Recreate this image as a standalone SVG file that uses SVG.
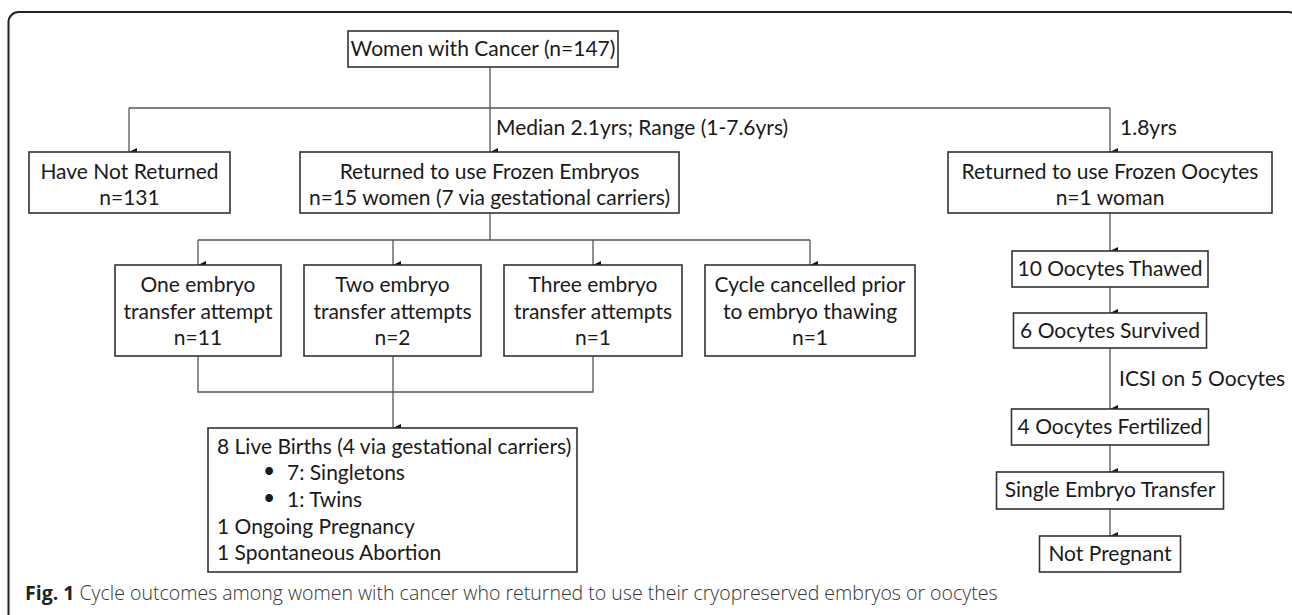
<svg xmlns="http://www.w3.org/2000/svg" width="1292" height="615" viewBox="0 0 1292 615">
<defs>
<marker id="ah" markerWidth="8" markerHeight="8" refX="4" refY="8" orient="auto" markerUnits="userSpaceOnUse" viewBox="0 0 8 8">
<path d="M0,0 L8,0 L4,8 Z" fill="#111"/>
</marker>
<style>
.box{fill:#fff;stroke:#333;stroke-width:1.6}
.t{font-family:Lato,"Liberation Sans",sans-serif;font-size:21px;fill:#1a1a1a;text-anchor:middle}
.tl{font-family:Lato,"Liberation Sans",sans-serif;font-size:21px;fill:#1a1a1a}
.c{fill:none;stroke:#555;stroke-width:1.3}
.ca{fill:none;stroke:#555;stroke-width:1.3;marker-end:url(#ah)}
.cap{font-family:"Open Sans","Liberation Sans",sans-serif;font-size:19.5px;fill:#333}
</style>
</defs>
<rect x="8.5" y="12" width="1290" height="700" rx="10" fill="#fff" stroke="#222" stroke-width="2"/>
<g id="connectors">
<path class="ca" d="M490,67 V152"/>
<path class="c" d="M129,108 H1110"/>
<path class="ca" d="M129,108 V152"/>
<path class="ca" d="M1110,108 V152"/>
<path class="c" d="M490,213 V240"/>
<path class="c" d="M198,240 H810"/>
<path class="ca" d="M198,240 V265"/>
<path class="ca" d="M393,240 V265"/>
<path class="ca" d="M593,240 V265"/>
<path class="ca" d="M810,240 V265"/>
<path class="c" d="M198,356 V392 H593 V356"/>
<path class="ca" d="M393,356 V428"/>
<path class="ca" d="M1110,213 V251"/>
<path class="ca" d="M1110,287 V313"/>
<path class="ca" d="M1110,348 V409"/>
<path class="ca" d="M1110,445 V472"/>
<path class="ca" d="M1110,509 V536"/>
<text class="tl" x="496" y="135">Median 2.1yrs; Range (1-7.6yrs)</text>
<text class="tl" x="1120" y="135">1.8yrs</text>
<text class="tl" x="1119" y="386">ICSI on 5 Oocytes</text>
</g>
<g id="n-women">
<rect class="box" x="348" y="31" width="270" height="36"/>
<text class="t" x="483" y="56">Women with Cancer (n=147)</text>
</g>
<g id="n-notreturned">
<rect class="box" x="29" y="152" width="201" height="61"/>
<text class="t" x="129.5" y="179">Have Not Returned</text>
<text class="t" x="129.5" y="205">n=131</text>
</g>
<g id="n-embryos">
<rect class="box" x="300" y="152" width="379" height="61"/>
<text class="t" x="489.5" y="179">Returned to use Frozen Embryos</text>
<text class="t" x="489.5" y="205">n=15 women (7 via gestational carriers)</text>
</g>
<g id="n-oocytes">
<rect class="box" x="948" y="152" width="324" height="61"/>
<text class="t" x="1110" y="179">Returned to use Frozen Oocytes</text>
<text class="t" x="1110" y="205">n=1 woman</text>
</g>
<g id="n-one">
<rect class="box" x="115" y="265" width="166" height="91"/>
<text class="t" x="198" y="292">One embryo</text>
<text class="t" x="198" y="319">transfer attempt</text>
<text class="t" x="198" y="345">n=11</text>
</g>
<g id="n-two">
<rect class="box" x="304" y="265" width="177" height="91"/>
<text class="t" x="392.5" y="292">Two embryo</text>
<text class="t" x="392.5" y="319">transfer attempts</text>
<text class="t" x="392.5" y="345">n=2</text>
</g>
<g id="n-three">
<rect class="box" x="504" y="265" width="178" height="91"/>
<text class="t" x="593" y="292">Three embryo</text>
<text class="t" x="593" y="319">transfer attempts</text>
<text class="t" x="593" y="345">n=1</text>
</g>
<g id="n-cancelled">
<rect class="box" x="705" y="265" width="210" height="91"/>
<text class="t" x="810" y="292">Cycle cancelled prior</text>
<text class="t" x="810" y="319">to embryo thawing</text>
<text class="t" x="810" y="345">n=1</text>
</g>
<g id="n-outcomes">
<rect class="box" x="208" y="428" width="369" height="144"/>
<text class="tl" x="217" y="454" font-size="20.5">8 Live Births (4 via gestational carriers)</text>
<text class="tl" x="263" y="478" font-size="13">•</text>
<text class="tl" x="287" y="480" font-size="20.5">7: Singletons</text>
<text class="tl" x="263" y="505" font-size="13">•</text>
<text class="tl" x="287" y="507" font-size="20.5">1: Twins</text>
<text class="tl" x="217" y="534" font-size="20.5">1 Ongoing Pregnancy</text>
<text class="tl" x="217" y="560" font-size="20.5">1 Spontaneous Abortion</text>
</g>
<g id="n-thawed">
<rect class="box" x="1012" y="251" width="196" height="36"/>
<text class="t" x="1110" y="276">10 Oocytes Thawed</text>
</g>
<g id="n-survived">
<rect class="box" x="1013.5" y="313" width="193" height="35"/>
<text class="t" x="1110" y="338">6 Oocytes Survived</text>
</g>
<g id="n-fertilized">
<rect class="box" x="1011.5" y="409" width="197" height="36"/>
<text class="t" x="1110" y="434">4 Oocytes Fertilized</text>
</g>
<g id="n-set">
<rect class="box" x="996.5" y="472" width="227" height="37"/>
<text class="t" x="1110" y="497">Single Embryo Transfer</text>
</g>
<g id="n-notpregnant">
<rect class="box" x="1039.5" y="536" width="141" height="36"/>
<text class="t" x="1110" y="561">Not Pregnant</text>
</g>
<text class="cap" x="25" y="600"><tspan font-weight="700" fill="#222">Fig. 1</tspan><tspan font-weight="300"> Cycle outcomes among women with cancer who returned to use their cryopreserved embryos or oocytes</tspan></text>
</svg>
